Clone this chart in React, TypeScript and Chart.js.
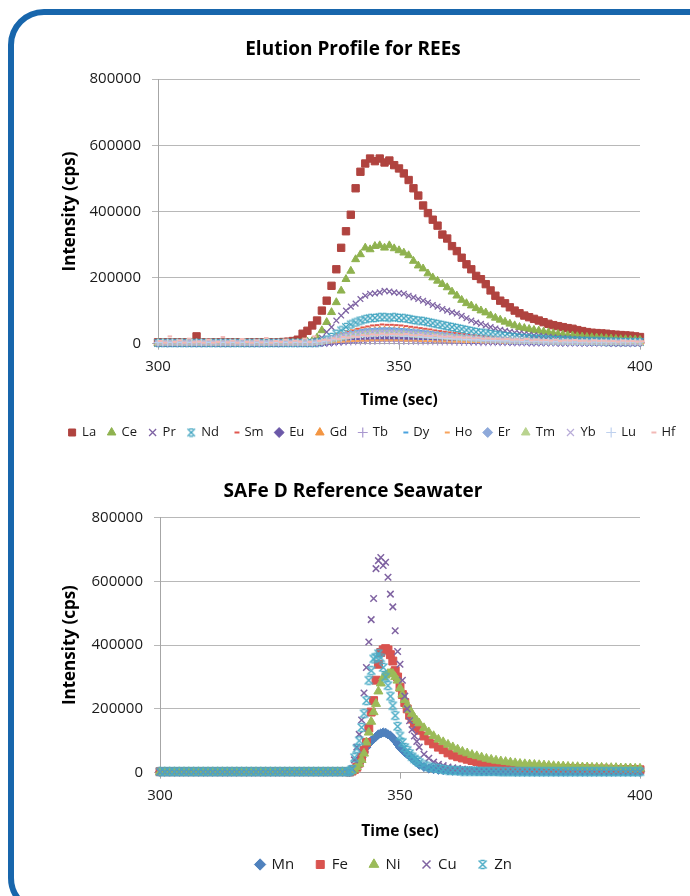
import { useEffect, useRef } from "react";
import { Chart, registerables } from "chart.js";

Chart.register(...registerables);

const FONT = "'Open Sans', 'Liberation Sans', sans-serif";

// ================= TOP CHART: Elution Profile for REEs =================
const TOP_TITLE = "Elution Profile for REEs";
const X_TITLE = "Time (sec)";
const Y_TITLE = "Intensity (cps)";
const X_TICKS = [300, 350, 400];
const Y_TICKS = [0, 200000, 400000, 600000, 800000];

const TOP_TIME_SEC = [
  300, 301, 302, 303, 304, 305, 306, 307, 308, 309,
  310, 311, 312, 313, 314, 315, 316, 317, 318, 319,
  320, 321, 322, 323, 324, 325, 326, 327, 328, 329,
  330, 331, 332, 333, 334, 335, 336, 337, 338, 339,
  340, 341, 342, 343, 344, 345, 346, 347, 348, 349,
  350, 351, 352, 353, 354, 355, 356, 357, 358, 359,
  360, 361, 362, 363, 364, 365, 366, 367, 368, 369,
  370, 371, 372, 373, 374, 375, 376, 377, 378, 379,
  380, 381, 382, 383, 384, 385, 386, 387, 388, 389,
  390, 391, 392, 393, 394, 395, 396, 397, 398, 399,
  400,
];

const TOP_LABELS = ["La", "Ce", "Pr", "Nd", "Sm", "Eu", "Gd", "Tb", "Dy", "Ho", "Er", "Tm", "Yb", "Lu", "Hf"];

// intensities in thousands of cps
const LA_KCPS = [
  4, 3, 4, 3, 4, 3, 4, 3, 22, 4,
  3, 4, 3, 4, 3, 4, 3, 4, 3, 4,
  3, 4, 3, 4, 3, 4, 5, 6, 8, 12,
  30, 39, 55, 70, 100, 130, 175, 225, 290, 340,
  390, 470, 520, 545, 560, 552, 560, 548, 554, 540,
  530, 515, 495, 470, 448, 418, 395, 375, 357, 330,
  318, 295, 280, 260, 240, 225, 205, 195, 180, 161,
  145, 130, 122, 110, 100, 92, 85, 80, 75, 70,
  65, 60, 56, 53, 50, 47, 45, 41, 38, 35,
  33, 32, 31, 30, 28, 27, 26, 25, 24, 22,
  20,
];
const CE_KCPS = [
  2, 2, 2, 2, 2, 2, 2, 2, 2, 2,
  2, 2, 2, 2, 2, 2, 2, 2, 2, 2,
  2, 2, 2, 2, 2, 2, 2, 2, 2, 3,
  4, 6, 8, 18, 40, 65, 95, 125, 160, 195,
  220, 255, 270, 290, 285, 295, 297, 290, 297, 288,
  282, 275, 267, 250, 236, 227, 212, 200, 190, 180,
  170, 157, 145, 132, 122, 115, 107, 100, 94, 85,
  78, 72, 66, 60, 55, 50, 47, 44, 41, 39,
  36, 34, 31, 29, 27, 25, 24, 22, 21, 20,
  19, 18, 17, 16, 15, 14, 13, 13, 12, 12,
  11,
];
const PR_KCPS = [
  2, 2, 2, 2, 2, 2, 2, 2, 2, 2,
  2, 2, 2, 2, 2, 2, 2, 2, 2, 2,
  2, 2, 2, 2, 2, 2, 2, 2, 2, 2,
  2, 2, 3, 10, 18, 35, 50, 70, 85, 100,
  112, 121, 135, 145, 151, 152, 155, 160, 158, 155,
  153, 151, 145, 140, 135, 130, 124, 117, 112, 105,
  100, 95, 91, 84, 77, 70, 64, 60, 55, 50,
  46, 42, 39, 36, 33, 31, 29, 27, 25, 24,
  22, 21, 19, 18, 17, 16, 15, 14, 13, 12,
  12, 11, 10, 10, 9, 9, 8, 8, 8, 7,
  7,
];
const ND_KCPS = [
  2, 2, 2, 2, 2, 2, 2, 2, 2, 2,
  2, 2, 2, 2, 2, 2, 2, 2, 2, 2,
  2, 2, 2, 2, 2, 2, 2, 2, 2, 2,
  2, 2, 2, 3, 6, 12, 20, 30, 40, 50,
  58, 64, 70, 74, 77, 78, 80, 80, 79, 80,
  78, 77, 75, 72, 70, 68, 65, 62, 59, 56,
  53, 50, 47, 44, 41, 38, 35, 33, 31, 29,
  27, 25, 23, 21, 20, 18, 17, 16, 15, 14,
  13, 12, 11, 11, 10, 10, 9, 9, 8, 8,
  7, 7, 7, 6, 6, 6, 5, 5, 5, 5,
  5,
];
const SM_KCPS = [
  1, 1, 1, 1, 1, 1, 1, 1, 1, 1,
  1, 1, 1, 1, 1, 1, 1, 1, 1, 1,
  1, 1, 1, 1, 1, 1, 1, 1, 1, 1,
  1, 1, 1, 2, 5, 9, 15, 22, 29, 35,
  40, 45, 49, 52, 55, 56, 58, 57, 57, 56,
  55, 53, 51, 49, 47, 45, 43, 40, 38, 36,
  34, 32, 30, 28, 26, 24, 22, 21, 19, 18,
  17, 16, 15, 14, 13, 12, 11, 11, 10, 9,
  9, 8, 8, 7, 7, 7, 6, 6, 6, 5,
  5, 5, 5, 4, 4, 4, 4, 4, 4, 3,
  3,
];
const EU_KCPS = [
  1, 1, 1, 1, 1, 1, 1, 1, 1, 1,
  1, 1, 1, 1, 1, 1, 1, 1, 1, 1,
  1, 1, 1, 1, 1, 1, 1, 1, 1, 1,
  1, 1, 1, 1, 1, 2, 3, 5, 6, 8,
  9, 10, 11, 12, 13, 14, 14, 15, 15, 15,
  14, 14, 14, 13, 13, 12, 12, 11, 11, 10,
  10, 9, 9, 8, 8, 7, 7, 6, 6, 6,
  5, 5, 5, 4, 4, 4, 4, 3, 3, 3,
  3, 3, 3, 2, 2, 2, 2, 2, 2, 2,
  2, 2, 2, 2, 1, 1, 1, 1, 1, 1,
  1,
];
const GD_KCPS = [
  2, 2, 2, 2, 2, 2, 2, 2, 2, 2,
  2, 2, 2, 2, 2, 2, 2, 2, 2, 2,
  2, 2, 2, 2, 2, 2, 2, 2, 2, 2,
  2, 2, 2, 3, 5, 9, 14, 19, 24, 28,
  32, 35, 37, 39, 40, 41, 42, 42, 41, 41,
  40, 39, 38, 36, 35, 33, 32, 30, 28, 27,
  25, 24, 22, 21, 19, 18, 17, 15, 14, 13,
  12, 11, 11, 10, 9, 9, 8, 8, 7, 7,
  6, 6, 6, 5, 5, 5, 5, 4, 4, 4,
  4, 4, 3, 3, 3, 3, 3, 3, 3, 3,
  2,
];
const TB_KCPS = [
  1, 1, 1, 1, 1, 1, 1, 1, 1, 1,
  1, 1, 1, 1, 1, 1, 1, 1, 1, 1,
  1, 1, 1, 1, 1, 1, 1, 1, 1, 1,
  1, 1, 1, 1, 1, 2, 3, 3, 4, 5,
  5, 6, 6, 7, 7, 7, 8, 8, 8, 8,
  7, 7, 7, 7, 6, 6, 6, 6, 5, 5,
  5, 5, 4, 4, 4, 4, 4, 3, 3, 3,
  3, 3, 3, 3, 2, 2, 2, 2, 2, 2,
  2, 2, 2, 2, 2, 2, 1, 1, 1, 1,
  1, 1, 1, 1, 1, 1, 1, 1, 1, 1,
  1,
];
const DY_KCPS = [
  2, 2, 2, 2, 2, 2, 2, 2, 2, 2,
  2, 2, 2, 2, 2, 2, 2, 2, 2, 2,
  2, 2, 2, 2, 2, 2, 2, 2, 2, 2,
  2, 2, 2, 3, 6, 10, 15, 21, 26, 31,
  35, 38, 41, 43, 44, 45, 46, 46, 46, 45,
  44, 43, 42, 40, 39, 37, 35, 33, 31, 30,
  28, 26, 24, 23, 21, 20, 18, 17, 16, 15,
  14, 13, 12, 11, 10, 10, 9, 8, 8, 7,
  7, 7, 6, 6, 6, 5, 5, 5, 5, 4,
  4, 4, 4, 4, 3, 3, 3, 3, 3, 3,
  3,
];
const HO_KCPS = [
  1, 1, 1, 1, 1, 1, 1, 1, 1, 1,
  1, 1, 1, 1, 1, 1, 1, 1, 1, 1,
  1, 1, 1, 1, 1, 1, 1, 1, 1, 1,
  1, 1, 1, 1, 2, 3, 4, 5, 6, 7,
  8, 8, 9, 9, 10, 10, 10, 10, 10, 10,
  10, 9, 9, 9, 8, 8, 8, 7, 7, 7,
  6, 6, 6, 5, 5, 5, 5, 4, 4, 4,
  4, 3, 3, 3, 3, 3, 3, 2, 2, 2,
  2, 2, 2, 2, 2, 2, 2, 2, 1, 1,
  1, 1, 1, 1, 1, 1, 1, 1, 1, 1,
  1,
];
const ER_KCPS = [
  3, 3, 3, 3, 3, 3, 3, 3, 3, 3,
  3, 3, 3, 3, 3, 3, 3, 3, 3, 3,
  3, 3, 3, 3, 3, 3, 3, 3, 3, 3,
  3, 3, 3, 4, 6, 10, 14, 18, 22, 26,
  29, 32, 34, 36, 37, 38, 38, 39, 38, 38,
  37, 36, 35, 34, 33, 31, 30, 28, 27, 25,
  24, 23, 21, 20, 19, 18, 16, 15, 14, 13,
  13, 12, 11, 10, 10, 9, 9, 8, 8, 7,
  7, 7, 6, 6, 6, 6, 5, 5, 5, 5,
  5, 5, 4, 4, 4, 4, 4, 4, 4, 4,
  4,
];
const TM_KCPS = [
  2, 2, 2, 2, 2, 2, 2, 2, 2, 2,
  2, 2, 2, 2, 2, 2, 2, 2, 2, 2,
  2, 2, 2, 2, 2, 2, 2, 2, 2, 2,
  2, 2, 2, 3, 5, 8, 11, 14, 17, 20,
  23, 25, 26, 28, 29, 29, 30, 30, 30, 29,
  29, 28, 27, 26, 25, 24, 23, 22, 21, 20,
  19, 18, 17, 16, 15, 14, 13, 12, 11, 11,
  10, 9, 9, 8, 8, 7, 7, 7, 6, 6,
  6, 5, 5, 5, 5, 4, 4, 4, 4, 4,
  4, 3, 3, 3, 3, 3, 3, 3, 3, 3,
  3,
];
const YB_KCPS = [
  3, 3, 3, 3, 3, 3, 3, 3, 3, 3,
  3, 3, 3, 3, 3, 3, 3, 3, 3, 3,
  3, 3, 3, 3, 3, 3, 3, 3, 3, 3,
  3, 3, 3, 4, 6, 9, 13, 17, 20, 23,
  26, 28, 30, 31, 32, 33, 33, 33, 33, 32,
  32, 31, 30, 29, 28, 27, 26, 24, 23, 22,
  21, 20, 19, 17, 16, 15, 14, 13, 12, 12,
  11, 10, 10, 9, 9, 8, 8, 7, 7, 7,
  6, 6, 6, 6, 5, 5, 5, 5, 5, 4,
  4, 4, 4, 4, 4, 4, 4, 4, 3, 3,
  3,
];
const LU_KCPS = [
  4, 4, 4, 4, 4, 4, 4, 4, 4, 4,
  4, 4, 4, 4, 4, 4, 4, 4, 4, 4,
  4, 4, 4, 4, 4, 4, 4, 4, 4, 4,
  4, 4, 4, 5, 7, 9, 12, 14, 16, 18,
  20, 21, 22, 23, 24, 24, 25, 25, 25, 24,
  24, 23, 23, 22, 21, 20, 19, 18, 18, 17,
  16, 15, 14, 14, 13, 12, 12, 11, 10, 10,
  9, 9, 9, 8, 8, 8, 7, 7, 7, 7,
  6, 6, 6, 6, 6, 5, 5, 5, 5, 5,
  5, 5, 5, 5, 5, 5, 5, 5, 5, 5,
  5,
];
const HF_KCPS = [
  8, 3, 22, 5, 10, 3, 15, 4, 6, 3,
  12, 3, 5, 20, 4, 9, 3, 14, 5, 3,
  10, 4, 17, 3, 8, 5, 12, 4, 9, 6,
  15, 5, 22, 8, 12, 10, 16, 14, 20, 18,
  22, 20, 26, 24, 28, 26, 30, 27, 29, 28,
  27, 29, 26, 25, 27, 24, 23, 25, 22, 21,
  22, 19, 20, 18, 19, 16, 18, 15, 16, 14,
  15, 13, 14, 12, 13, 11, 14, 10, 12, 10,
  11, 9, 12, 8, 10, 9, 11, 8, 9, 7,
  10, 8, 9, 7, 8, 6, 9, 7, 8, 6,
  7,
];

const TOP_VALUES_KCPS = [
  LA_KCPS, CE_KCPS, PR_KCPS, ND_KCPS, SM_KCPS, EU_KCPS, GD_KCPS, TB_KCPS,
  DY_KCPS, HO_KCPS, ER_KCPS, TM_KCPS, YB_KCPS, LU_KCPS, HF_KCPS,
];

// ================= BOTTOM CHART: SAFe D Reference Seawater =================
const BOTTOM_TITLE = "SAFe D Reference Seawater";
const BOTTOM_LABELS = ["Mn", "Fe", "Ni", "Cu", "Zn"];

const BOTTOM_TIME_SEC = [
  300, 301, 302, 303, 304, 305, 306, 307, 308, 309,
  310, 311, 312, 313, 314, 315, 316, 317, 318, 319,
  320, 321, 322, 323, 324, 325, 326, 327, 328, 329,
  330, 331, 332, 333, 334, 335, 336, 337, 338, 339,
  339.5, 340, 340.5, 341, 341.5, 342, 342.5, 343, 343.5, 344,
  344.5, 345, 345.5, 346, 346.5, 347, 347.5, 348, 348.5, 349,
  349.5, 350, 350.5, 351, 351.5, 352, 352.5, 353, 353.5, 354,
  355, 356, 357, 358, 359, 360, 361, 362, 363, 364,
  365, 366, 367, 368, 369, 370, 371, 372, 373, 374,
  375, 376, 377, 378, 379, 380, 381, 382, 383, 384,
  385, 386, 387, 388, 389, 390, 391, 392, 393, 394,
  395, 396, 397, 398, 399, 400,
];

const MN_KCPS = [
  3, 3, 3, 3, 3, 3, 3, 3, 3, 3,
  3, 3, 3, 3, 3, 3, 3, 3, 3, 3,
  3, 3, 3, 3, 3, 3, 3, 3, 3, 3,
  3, 3, 3, 3, 3, 3, 3, 3, 3, 3,
  2, 5, 10, 17, 30, 48, 65, 80, 91, 100,
  106, 113, 120, 123, 126, 125, 120, 116, 108, 100,
  90, 79, 72, 64, 58, 53, 45, 38, 32, 25,
  18, 13, 11, 9, 8, 7, 6, 6, 5, 5,
  5, 5, 4, 4, 4, 4, 4, 4, 4, 3,
  3, 3, 3, 3, 3, 3, 3, 3, 3, 3,
  3, 3, 3, 3, 3, 3, 3, 3, 3, 3,
  3, 3, 3, 3, 3, 3,
];
const FE_KCPS = [
  3, 3, 3, 3, 3, 3, 3, 3, 3, 3,
  3, 3, 3, 3, 3, 3, 3, 3, 3, 3,
  3, 3, 3, 3, 3, 3, 3, 3, 3, 3,
  3, 3, 3, 3, 3, 3, 3, 3, 3, 3,
  2, 5, 10, 17, 30, 48, 70, 95, 140, 190,
  226, 290, 340, 377, 385, 389, 385, 370, 350, 320,
  300, 268, 245, 220, 200, 180, 168, 155, 145, 133,
  115, 100, 90, 80, 72, 62, 55, 50, 46, 42,
  38, 35, 32, 29, 27, 25, 23, 21, 20, 18,
  17, 16, 15, 15, 14, 14, 14, 13, 13, 13,
  13, 12, 12, 12, 12, 11, 11, 11, 11, 10,
  10, 10, 10, 10, 9, 9,
];
const NI_KCPS = [
  2, 2, 2, 2, 2, 2, 2, 2, 2, 2,
  2, 2, 2, 2, 2, 2, 2, 2, 2, 2,
  2, 2, 2, 2, 2, 2, 2, 2, 2, 2,
  2, 2, 2, 2, 2, 2, 2, 2, 2, 2,
  2, 5, 10, 18, 28, 40, 60, 95, 126, 160,
  190, 216, 255, 280, 299, 305, 310, 312, 310, 300,
  289, 265, 245, 228, 212, 196, 185, 172, 163, 155,
  140, 127, 115, 104, 96, 88, 80, 73, 66, 61,
  56, 52, 48, 44, 41, 38, 36, 34, 32, 30,
  28, 27, 26, 25, 24, 23, 22, 21, 20, 20,
  19, 18, 18, 17, 17, 16, 16, 16, 15, 15,
  15, 14, 14, 14, 13, 13,
];
const CU_KCPS = [
  2, 2, 2, 2, 2, 2, 2, 2, 2, 2,
  2, 2, 2, 2, 2, 2, 2, 2, 2, 2,
  2, 2, 2, 2, 2, 2, 2, 2, 2, 2,
  2, 2, 2, 2, 2, 2, 2, 2, 2, 2,
  3, 12, 40, 80, 120, 165, 250, 330, 410, 480,
  546, 640, 665, 675, 650, 660, 613, 560, 520, 445,
  380, 340, 290, 240, 200, 163, 135, 115, 98, 80,
  58, 45, 33, 26, 22, 18, 15, 13, 11, 9,
  8, 7, 6, 6, 5, 5, 5, 4, 4, 4,
  4, 4, 4, 3, 3, 3, 3, 3, 3, 3,
  3, 3, 3, 3, 3, 3, 3, 3, 3, 3,
  3, 3, 3, 3, 3, 3,
];
const ZN_KCPS = [
  3, 3, 3, 3, 3, 3, 3, 3, 3, 3,
  3, 3, 3, 3, 3, 3, 3, 3, 3, 3,
  3, 3, 3, 3, 3, 3, 3, 3, 3, 3,
  3, 3, 3, 3, 3, 3, 3, 3, 3, 3,
  3, 10, 47, 75, 100, 142, 185, 226, 290, 320,
  357, 362, 373, 360, 330, 300, 273, 240, 210, 179,
  145, 115, 95, 79, 70, 60, 50, 43, 38, 32,
  24, 18, 15, 13, 10, 8, 7, 6, 5, 5,
  5, 4, 4, 4, 4, 4, 3, 3, 3, 3,
  3, 3, 3, 3, 3, 3, 3, 3, 3, 3,
  3, 3, 3, 3, 3, 3, 3, 3, 3, 3,
  3, 3, 3, 3, 3, 3,
];

const BOTTOM_VALUES_KCPS = [MN_KCPS, FE_KCPS, NI_KCPS, CU_KCPS, ZN_KCPS];

// ================= Styling =================
type Marker = { color: string; shape: string; radius: number; line: number };

const TOP_MARKERS: Marker[] = [
  { color: "#b0433f", shape: "rect", radius: 5.2, line: 1 },
  { color: "#8fb24f", shape: "triangle", radius: 4.6, line: 1 },
  { color: "#7e63a3", shape: "crossRot", radius: 4, line: 1.3 },
  { color: "#3ea3bf", shape: "barredX", radius: 3.6, line: 1.3 },
  { color: "#e0574f", shape: "dash", radius: 4.5, line: 2 },
  { color: "#6b58a8", shape: "rectRot", radius: 3.6, line: 1 },
  { color: "#f39542", shape: "triangle", radius: 3.8, line: 1 },
  { color: "#a998cf", shape: "cross", radius: 3.6, line: 1.2 },
  { color: "#4aa3df", shape: "dash", radius: 4, line: 2 },
  { color: "#f7a35c", shape: "dash", radius: 4, line: 2 },
  { color: "#8ea9da", shape: "rectRot", radius: 3.8, line: 1 },
  { color: "#b9d38f", shape: "triangle", radius: 3.8, line: 1 },
  { color: "#b8acd8", shape: "crossRot", radius: 3.6, line: 1.2 },
  { color: "#bfd1ee", shape: "cross", radius: 3.6, line: 1.2 },
  { color: "#f2b9b6", shape: "dash", radius: 4.5, line: 2 },
];

const BOTTOM_MARKERS: Marker[] = [
  { color: "#4f81bd", shape: "rectRot", radius: 4.6, line: 1 },
  { color: "#d9534f", shape: "rect", radius: 5.6, line: 1 },
  { color: "#9bbb59", shape: "triangle", radius: 5.2, line: 1 },
  { color: "#8064a2", shape: "crossRot", radius: 4.6, line: 1.5 },
  { color: "#4bacc6", shape: "barredX", radius: 4, line: 1.5 },
];

function barredX(color: string, radius: number, line: number): HTMLCanvasElement {
  const size = Math.ceil(radius * 2 + line * 2);
  const c = document.createElement("canvas");
  c.width = size;
  c.height = size;
  const g = c.getContext("2d")!;
  g.strokeStyle = color;
  g.lineWidth = line;
  const a = line;
  const b = size - line;
  const m = size / 2;
  const h = radius * 0.55;
  g.beginPath();
  g.moveTo(a, a);
  g.lineTo(b, b);
  g.moveTo(b, a);
  g.lineTo(a, b);
  g.moveTo(m - h, a);
  g.lineTo(m + h, a);
  g.moveTo(m - h, b);
  g.lineTo(m + h, b);
  g.stroke();
  return c;
}

function makeDatasets(times: number[], labels: string[], values: number[][], markers: Marker[]) {
  return labels.map((label, i) => {
    const m = markers[i];
    const ps: any = m.shape === "barredX" ? barredX(m.color, m.radius, m.line) : m.shape;
    return {
      label,
      data: times.map((t, j) => ({ x: t, y: values[i][j] * 1000 })),
      pointStyle: ps,
      pointRadius: m.radius,
      pointHoverRadius: m.radius,
      pointBackgroundColor: m.color,
      pointBorderColor: m.color,
      pointBorderWidth: m.line,
      backgroundColor: m.color,
      borderColor: m.color,
      borderWidth: m.line,
      showLine: false,
      clip: false as any,
      order: labels.length - i,
    };
  });
}

type Layout = {
  titlePadTop: number;
  titlePadBottom: number;
  yAxisWidth: number;
  yTitlePadTop: number;
  rightGutter: number;
  xTitlePadTop: number;
  xTitlePadBottom: number;
  xTitleLineHeight: number;
  legendFont: number;
  legendBox: number;
  legendPad: number;
  legendShift: number;
};

function makeConfig(title: string, datasets: any[], L: Layout): any {
  const shiftPlugin = {
    id: "legendShift",
    afterLayout(chart: any) {
      const lg = chart.legend;
      if (lg) {
        lg.left += L.legendShift;
        lg.right += L.legendShift;
      }
    },
  };
  return {
    type: "scatter",
    data: { datasets },
    plugins: [shiftPlugin],
    options: {
      responsive: false,
      animation: false,
      events: [],
      layout: { padding: 0 },
      plugins: {
        tooltip: { enabled: false },
        title: {
          display: true,
          text: title,
          color: "#000",
          font: { family: FONT, size: 19, weight: "bold" },
          padding: { top: L.titlePadTop, bottom: L.titlePadBottom },
        },
        legend: {
          display: true,
          position: "bottom",
          labels: {
            usePointStyle: true,
            boxWidth: L.legendBox,
            boxHeight: L.legendBox,
            padding: L.legendPad,
            color: "#1a1a1a",
            font: { family: FONT, size: L.legendFont },
            sort: (a: any, b: any) => a.datasetIndex - b.datasetIndex,
          },
        },
      },
      scales: {
        x: {
          type: "linear",
          position: "bottom",
          min: X_TICKS[0],
          max: X_TICKS[X_TICKS.length - 1],
          afterBuildTicks: (axis: any) => {
            axis.ticks = X_TICKS.map((v) => ({ value: v }));
          },
          ticks: {
            color: "#1a1a1a",
            font: { family: FONT, size: 15 },
            padding: 8,
            maxRotation: 0,
            callback: (v: any) => String(v),
          },
          grid: { drawOnChartArea: false, tickLength: 6, color: "#a6a6a6" },
          border: { color: "#a6a6a6" },
          title: {
            display: true,
            text: X_TITLE,
            color: "#000",
            font: { family: FONT, size: 15.5, weight: "bold", lineHeight: L.xTitleLineHeight },
            padding: { top: L.xTitlePadTop, bottom: L.xTitlePadBottom },
          },
        },
        y: {
          type: "linear",
          position: "left",
          min: Y_TICKS[0],
          max: Y_TICKS[Y_TICKS.length - 1],
          afterBuildTicks: (axis: any) => {
            axis.ticks = Y_TICKS.map((v) => ({ value: v }));
          },
          afterFit: (axis: any) => {
            axis.width = L.yAxisWidth;
          },
          ticks: {
            color: "#1a1a1a",
            font: { family: FONT, size: 15 },
            padding: 11,
            callback: (v: any) => String(v),
          },
          grid: { color: "#b8b8b8", tickLength: 6 },
          border: { color: "#a6a6a6" },
          title: {
            display: true,
            text: Y_TITLE,
            color: "#000",
            font: { family: FONT, size: 17, weight: "bold" },
            padding: { top: L.yTitlePadTop, bottom: 4 },
          },
        },
        gutter: {
          type: "linear",
          position: "right",
          display: true,
          grid: { display: false, drawTicks: false },
          ticks: { display: false },
          border: { display: false },
          title: { display: false },
          afterFit: (axis: any) => {
            axis.width = L.rightGutter;
          },
        },
      },
    },
  };
}

const TOP_LAYOUT: Layout = {
  titlePadTop: 18.2,
  titlePadBottom: 18.2,
  yAxisWidth: 140,
  yTitlePadTop: 41.8,
  rightGutter: 48,
  xTitlePadTop: 11.4,
  xTitlePadBottom: 8.1,
  xTitleLineHeight: 0.7,
  legendFont: 13,
  legendBox: 7,
  legendPad: 12,
  legendShift: 19,
};

const BOTTOM_LAYOUT: Layout = {
  titlePadTop: 18.2,
  titlePadBottom: 14.6,
  yAxisWidth: 142,
  yTitlePadTop: 41.8,
  rightGutter: 48,
  xTitlePadTop: 14.6,
  xTitlePadBottom: 0,
  xTitleLineHeight: 0.5,
  legendFont: 15,
  legendBox: 8,
  legendPad: 22,
  legendShift: 31,
};

export default function App() {
  const topRef = useRef<HTMLCanvasElement>(null);
  const bottomRef = useRef<HTMLCanvasElement>(null);

  useEffect(() => {
    const top = new Chart(
      topRef.current!,
      makeConfig(TOP_TITLE, makeDatasets(TOP_TIME_SEC, TOP_LABELS, TOP_VALUES_KCPS, TOP_MARKERS), TOP_LAYOUT)
    );
    const bottom = new Chart(
      bottomRef.current!,
      makeConfig(
        BOTTOM_TITLE,
        makeDatasets(BOTTOM_TIME_SEC, BOTTOM_LABELS, BOTTOM_VALUES_KCPS, BOTTOM_MARKERS),
        BOTTOM_LAYOUT
      )
    );
    return () => {
      top.destroy();
      bottom.destroy();
    };
  }, []);

  return (
    <div
      style={{
        position: "fixed",
        left: 0,
        top: 0,
        width: 690,
        height: 896,
        overflow: "hidden",
        background: "#fff",
      }}
    >
      <div
        style={{
          position: "absolute",
          left: 8,
          top: 9,
          width: 740,
          height: 905,
          border: "6px solid #1866ac",
          borderRadius: 36,
          boxSizing: "border-box",
        }}
      />
      <canvas
        ref={topRef}
        width={670}
        height={429}
        style={{ position: "absolute", left: 18, top: 20, width: 670, height: 429 }}
      />
      <canvas
        ref={bottomRef}
        width={670}
        height={420}
        style={{ position: "absolute", left: 18, top: 462, width: 670, height: 420 }}
      />
    </div>
  );
}
